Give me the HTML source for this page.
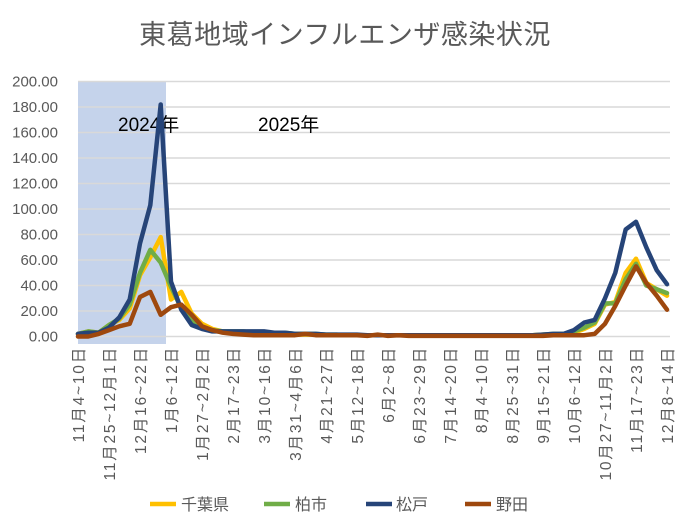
<!DOCTYPE html>
<html><head><meta charset="utf-8"><style>
body{margin:0;background:#fff;}
svg{display:block;font-family:"Liberation Sans","Noto Sans CJK JP",sans-serif;}
</style></head><body>
<svg id="c" width="691" height="532" viewBox="0 0 691 532" xmlns="http://www.w3.org/2000/svg">
<rect x="0" y="0" width="691" height="532" fill="#fff"/>
<text x="345" y="44" text-anchor="middle" font-size="27" letter-spacing="0.5" fill="#595959">東葛地域インフルエンザ感染状況</text>
<rect x="78" y="81" width="88" height="263" fill="#c5d3eb"/>
<g id="grid"></g>
<g id="ylab" font-size="15" fill="#595959" text-anchor="end"></g>
<g id="xlab" font-size="15.5" letter-spacing="1.8" fill="#595959"></g>
<text x="118" y="131" font-size="19" fill="#000">2024年</text>
<text x="258" y="131" font-size="19" fill="#000">2025年</text>
<g id="lines" fill="none" stroke-width="4.5" stroke-linejoin="round" stroke-linecap="round"></g>
<g font-size="16" fill="#595959">
<line x1="150" y1="504" x2="176" y2="504" stroke="#ffc000" stroke-width="4.5"/>
<text x="181" y="510">千葉県</text>
<line x1="264" y1="504" x2="290" y2="504" stroke="#70ad47" stroke-width="4.5"/>
<text x="295" y="510">柏市</text>
<line x1="366" y1="504" x2="392" y2="504" stroke="#264478" stroke-width="4.5"/>
<text x="396" y="510">松戸</text>
<line x1="465" y1="504" x2="491" y2="504" stroke="#9e480e" stroke-width="4.5"/>
<text x="496" y="510">野田</text>
</g>
</svg>
<script>
var NS="http://www.w3.org/2000/svg";
function el(p,t,a,txt){var e=document.createElementNS(NS,t);for(var k in a)e.setAttribute(k,a[k]);if(txt!==undefined)e.textContent=txt;document.getElementById(p).appendChild(e);return e;}
var y0=336.5,k=1.275;function Y(v){return y0-v*k;}
for(var i=0;i<=10;i++){var y=Y(i*20);el("grid","line",{x1:78,x2:670,y1:y,y2:y,stroke:"#d9d9d9","stroke-width":1.5});
el("ylab","text",{x:58,y:y+5},(i*20).toFixed(2));}
var x0=78,dx=(667-78)/57;function X(i){return x0+i*dx;}
var labs=["11月4~10日","11月25~12月1日","12月16~22日","1月6~12日","1月27~2月2日","2月17~23日","3月10~16日","3月31~4月6日","4月21~27日","5月12~18日","6月2~8日","6月23~29日","7月14~20日","8月4~10日","8月25~31日","9月15~21日","10月6~12日","10月27~11月2日","11月17~23日","12月8~14日"];
labs.forEach(function(s,j){var x=X(3*j)+6;el("xlab","text",{x:x,y:346,"text-anchor":"end",transform:"rotate(-90 "+x+" 346)"},s);});
var yel=[2,4,3,9,13,22,48,62,78,29,35,18,10,6,4,3,3,2,2,2,2,1.5,1.5,1.5,1,1,1,1,1,1,1,1,1,1,1,1,1,1,1,1,1,1,1,1,1,1.5,1.5,2,3,6,10,25,27,50,61,42,37,32];
var grn=[2,4,3,9,14,25,50,68,58,39,22,12,7,5,4,4,4,3,3,3,3,2,2,2,1.5,1.5,1,1,1,1,1,1,1,1,1,1,1,1,1,1,1,1,1,1,1,1.5,2,2,4,7,11,26,26,45,57,40,37,34];
var blu=[2,3,3,7,15,29,73,103,182,43,21,9,6,4,4,4,4,4,4,3,3,2,2,2,1.5,1.5,1.5,1.5,1,1,1,1,1,1,1,1,1,1,1,1,1,1,1,1,1,1.5,2,2,5,11,13,30,50,84,90,70,52,41];
var brn=[0,0,2,5,8,10,31,35,17,23,25,17,8,5,3,2,1.5,1,1,1,1,1,2,1,1,1,1,1,0.5,1.5,0.5,1,0.5,0.5,0.5,0.5,0.5,0.5,0.5,0.5,0.5,0.5,0.5,0.5,0.5,0.5,1,1,1,1,2,10,24,40,55,42,32,21];
[[yel,"#ffc000"],[grn,"#70ad47"],[blu,"#264478"],[brn,"#9e480e"]].forEach(function(s){
var p=s[0].map(function(v,i){return X(i).toFixed(1)+","+Y(v).toFixed(1);}).join(" ");
el("lines","polyline",{points:p,stroke:s[1]});});
</script>
</body></html>
